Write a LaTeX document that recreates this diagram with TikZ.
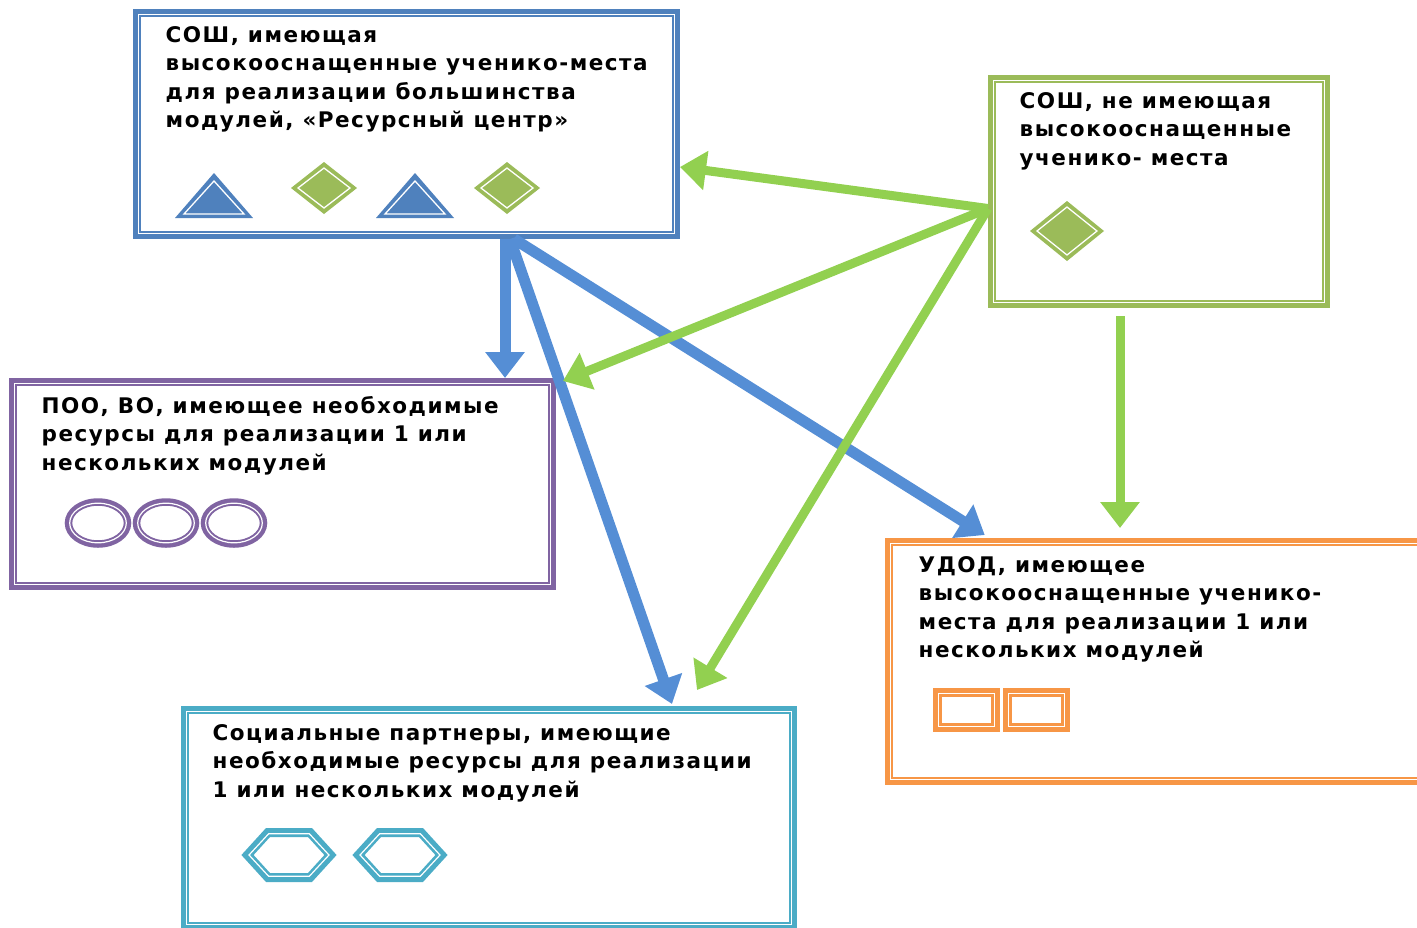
\documentclass[tikz,border=0pt]{standalone}
\usepackage{fontspec}
\setmainfont{DejaVu Sans}[LetterSpace=7]
\usepackage{tikz}
\usetikzlibrary{arrows.meta}

\definecolor{soshblue}{HTML}{4F81BD}
\definecolor{soshgreen}{HTML}{9BBB59}
\definecolor{poopurple}{HTML}{8064A2}
\definecolor{udodorange}{HTML}{F79646}
\definecolor{partnercyan}{HTML}{4BACC6}
\definecolor{arrowblue}{HTML}{558ED5}
\definecolor{arrowgreen}{HTML}{92D050}

\begin{document}
\begin{tikzpicture}[x=1pt, y=-1pt, >={Triangle[length=26pt,width=38pt]},
    box/.style={draw=#1, line width=5pt, rectangle, fill=white, inner sep=0pt},
    boxtext/.style={anchor=north west, inner sep=0pt, align=left,
        font=\fontsize{21.5}{28.5}\selectfont\bfseries},
    bluearrow/.style={->, draw=arrowblue, fill=arrowblue, line width=11pt},
    greenarrow/.style={->, draw=arrowgreen, fill=arrowgreen, line width=9pt},
    ring/.style={draw=#1, line width=8pt},
    ringline/.style={draw=white, line width=1.2pt}]
    \useasboundingbox (0,0) rectangle (1417,927);

    % Boxes
    \node[box=soshblue, minimum width=542pt, minimum height=225pt] (soshA) at (406.5,124) {};
    \node[box=soshgreen, minimum width=337pt, minimum height=228pt] (soshB) at (1159,191.5) {};
    \node[box=poopurple, minimum width=542pt, minimum height=207pt] (poo) at (282.5,484) {};
    \node[box=udodorange, minimum width=552.5pt, minimum height=242pt] (udod) at (1163.75,661.5) {};
    \node[box=partnercyan, minimum width=611pt, minimum height=219pt] (partners) at (489,818) {};

    % inner frames
    \foreach \n/\c in {soshA/soshblue, soshB/soshgreen, poo/poopurple, udod/udodorange, partners/partnercyan}
        \draw[draw=\c, line width=1.5pt] ([xshift=7pt,yshift=-7pt]\n.north west) rectangle ([xshift=-7pt,yshift=7pt]\n.south east);

    % Texts
    \node[boxtext] (soshA-txt) at ([xshift=32.5pt,yshift=-17pt]soshA.north west) {
        СОШ, имеющая\\
        высокооснащенные ученико-места\\
        для реализации большинства\\
        модулей, «Ресурсный центр»
    };
    \node[boxtext] (soshB-txt) at ([xshift=31.5pt,yshift=-17pt]soshB.north west) {
        СОШ, не имеющая\\
        высокооснащенные\\
        ученико- места
    };
    \node[boxtext] (poo-txt) at ([xshift=32.5pt,yshift=-18pt]poo.north west) {
        ПОО, ВО, имеющее необходимые\\
        ресурсы для реализации 1 или\\
        нескольких модулей
    };
    \node[boxtext] (udod-txt) at ([xshift=33.5pt,yshift=-18pt]udod.north west) {
        УДОД, имеющее\\
        высокооснащенные ученико-\\
        места для реализации 1 или\\
        нескольких модулей
    };
    \node[boxtext] (partners-txt) at ([xshift=31.5pt,yshift=-18pt]partners.north west) {
        Социальные партнеры, имеющие\\
        необходимые ресурсы для реализации\\
        1 или нескольких модулей
    };

    % Resource marks
    \foreach \x in {214,415} {
        \fill[soshblue] (\x-39,218) -- (\x,173) -- (\x+39,218) -- cycle;
        \draw[white, line width=1.3pt] (\x-30,214) -- (\x,181) -- (\x+30,214) -- cycle;
    }
    \foreach \x/\y/\w/\h in {324/188/33/26, 507/188/33/26, 1067/231/37/30} {
        \fill[soshgreen] (\x-\w,\y) -- (\x,\y-\h) -- (\x+\w,\y) -- (\x,\y+\h) -- cycle;
        \draw[white, line width=1.3pt] (\x-\w+7,\y) -- (\x,\y-\h+6) -- (\x+\w-7,\y) -- (\x,\y+\h-6) -- cycle;
    }
    \foreach \x in {98,166,234} {
        \draw[ring=poopurple, line width=7.5pt] (\x,523) ellipse [x radius=29.5, y radius=21];
        \draw[ringline] (\x,523) ellipse [x radius=28.3, y radius=19.8];
    }
    \foreach \x in {933,1003} {
        \draw[ring=udodorange, line width=9pt] (\x+4.5,692.5) rectangle (\x+62.5,727.5);
        \draw[ringline] (\x+5.7,693.7) rectangle (\x+61.3,726.3);
    }
    \foreach \x in {289,400} {
        \draw[ring=partnercyan, line width=9pt] (\x-41.5,855) -- (\x-21,832.5) -- (\x+21,832.5) -- (\x+41.5,855) -- (\x+21,877.5) -- (\x-21,877.5) -- cycle;
        \draw[ringline] (\x-40,855) -- (\x-20.3,833.7) -- (\x+20.3,833.7) -- (\x+40,855) -- (\x+20.3,876.3) -- (\x-20.3,876.3) -- cycle;
    }

    % Relationships
    \coordinate (hub) at ([xshift=98.5pt]soshA.south);
    \coordinate (fan) at ([yshift=-17pt]soshB.west);
    \draw[bluearrow] (hub) -- (hub |- poo.north);
    \draw[bluearrow] ([xshift=5pt]hub) -- ([xshift=183pt,yshift=2pt]partners.north);
    \draw[bluearrow] ([xshift=9pt]hub) -- ([xshift=-179pt,yshift=3pt]udod.north);
    \draw[greenarrow] (fan) -- ([yshift=-43pt]soshA.east);
    \draw[greenarrow] (fan) -- ([xshift=7pt,yshift=-3pt]poo.north east);
    \draw[greenarrow] (fan) -- ([xshift=208pt,yshift=16pt]partners.north);
    \draw[greenarrow] ([xshift=-39pt,yshift=-8pt]soshB.south) -- ([xshift=-43.75pt,yshift=10pt]udod.north);
\end{tikzpicture}
\end{document}
